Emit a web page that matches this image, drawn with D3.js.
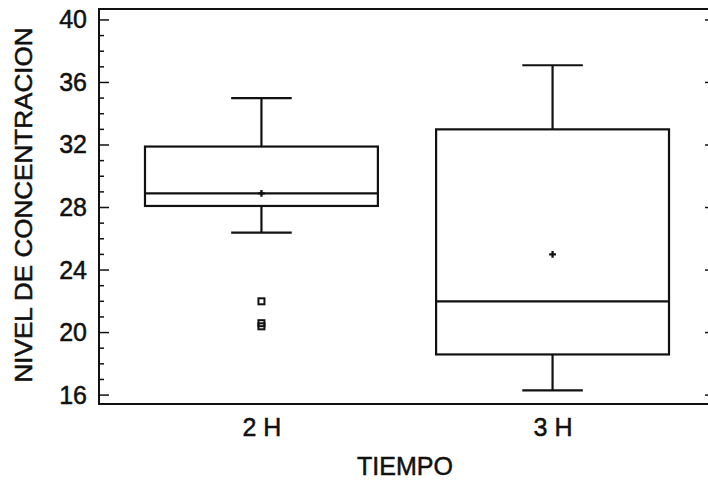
<!DOCTYPE html>
<html>
<head>
<meta charset="utf-8">
<script src="https://cdn.jsdelivr.net/npm/d3@7"></script>
<style>
  body { margin: 0; background: #fff; }
  svg text { font-family: "Liberation Sans", Arial, sans-serif; fill: #111; stroke: #111; stroke-width: 0.5px; }
</style>
</head>
<body>
<div id="chart-area"></div>
<script>
// box plot summaries
const groups = ["2 H", "3 H"];
const q1 = [28.1, 18.6];
const medians = [28.9, 22.0];
const q3 = [31.9, 33.0];
const whiskerLow = [26.4, 16.3];
const whiskerHigh = [35.0, 37.1];
const means = [28.9, 25.0];
const outliers = [[22.0, 20.6, 20.4], []];
const yTicks = [16, 20, 24, 28, 32, 36, 40];

const chartSize = { width: 708, height: 481 };
const margin = { left: 99, right: -7, top: 9, bottom: 77 };
const width = chartSize.width - margin.left - margin.right;
const height = chartSize.height - margin.top - margin.bottom;

const y = d3.scaleLinear().domain([15.43, 40.7]).range([height, 0]);
const x = d3.scalePoint().domain(groups).range([0, width]).padding(0.558);
const boxWidth = x.step() * 0.8;
const capWidth = boxWidth * 0.26;

const svg = d3
  .select("#chart-area")
  .append("svg")
  .attr("width", chartSize.width)
  .attr("height", chartSize.height);

const g = svg
  .append("g")
  .attr("transform", `translate(${margin.left},${margin.top})`);

// frame
g.append("rect")
  .attr("width", width)
  .attr("height", height)
  .attr("fill", "none")
  .attr("stroke", "#111")
  .attr("stroke-width", 2);

const minor = d3.range(16, 41);

// left axis: labels, then major + minor ticks
const yAxis = d3.axisLeft(y).tickValues(yTicks).tickSize(0).tickPadding(12);
g.append("g")
  .attr("class", "y-axis")
  .call(yAxis)
  .call(a => a.select(".domain").remove())
  .call(a => a.selectAll("text").style("font-size", "25px"));

g.append("g")
  .selectAll("line")
  .data(minor)
  .enter()
  .append("line")
  .attr("x1", 0)
  .attr("x2", d => (d % 4 === 0 ? 10 : 5))
  .attr("y1", d => y(d))
  .attr("y2", d => y(d))
  .attr("stroke", "#111")
  .attr("stroke-width", 1.5);

// right side ticks
g.append("g")
  .selectAll("line")
  .data(minor)
  .enter()
  .append("line")
  .attr("x1", width)
  .attr("x2", d => width - (d % 4 === 0 ? 10 : 5))
  .attr("y1", d => y(d))
  .attr("y2", d => y(d))
  .attr("stroke", "#111")
  .attr("stroke-width", 1.5);

// x labels
const xAxis = d3.axisBottom(x).tickSize(0).tickPadding(14);
g.append("g")
  .attr("transform", `translate(0,${height})`)
  .call(xAxis)
  .call(a => a.select(".domain").remove())
  .call(a => a.selectAll("text").style("font-size", "25px"));

g.append("text")
  .attr("x", 306)
  .attr("y", height + 71)
  .attr("text-anchor", "middle")
  .style("font-size", "25px")
  .text("TIEMPO");

g.append("text")
  .attr("transform", "rotate(-90)")
  .attr("x", -196)
  .attr("y", -67)
  .attr("text-anchor", "middle")
  .style("font-size", "23px")
  .attr("textLength", 355)
  .attr("lengthAdjust", "spacingAndGlyphs")
  .text("NIVEL DE CONCENTRACION");

// boxes
const boxes = g
  .selectAll(".box")
  .data(groups)
  .enter()
  .append("g")
  .attr("class", "box")
  .attr("stroke", "#111")
  .attr("stroke-width", 2.2)
  .attr("fill", "none");

boxes
  .append("line")
  .attr("x1", d => x(d))
  .attr("x2", d => x(d))
  .attr("y1", (d, i) => y(whiskerHigh[i]))
  .attr("y2", (d, i) => y(q3[i]));

boxes
  .append("line")
  .attr("x1", d => x(d))
  .attr("x2", d => x(d))
  .attr("y1", (d, i) => y(q1[i]))
  .attr("y2", (d, i) => y(whiskerLow[i]));

boxes
  .append("line")
  .attr("x1", d => x(d) - capWidth / 2)
  .attr("x2", d => x(d) + capWidth / 2)
  .attr("y1", (d, i) => y(whiskerHigh[i]))
  .attr("y2", (d, i) => y(whiskerHigh[i]));

boxes
  .append("line")
  .attr("x1", d => x(d) - capWidth / 2)
  .attr("x2", d => x(d) + capWidth / 2)
  .attr("y1", (d, i) => y(whiskerLow[i]))
  .attr("y2", (d, i) => y(whiskerLow[i]));

boxes
  .append("rect")
  .attr("x", d => x(d) - boxWidth / 2)
  .attr("width", boxWidth)
  .attr("y", (d, i) => y(q3[i]))
  .attr("height", (d, i) => y(q1[i]) - y(q3[i]));

boxes
  .append("line")
  .attr("x1", d => x(d) - boxWidth / 2)
  .attr("x2", d => x(d) + boxWidth / 2)
  .attr("y1", (d, i) => y(medians[i]))
  .attr("y2", (d, i) => y(medians[i]));

// mean markers
boxes
  .append("path")
  .attr("d", d3.symbol(d3.symbolCross, 26))
  .attr("transform", (d, i) => `translate(${x(d)},${y(means[i])})`)
  .attr("fill", "#111")
  .attr("stroke", "none");

// outliers
boxes.each(function(d, i) {
  d3.select(this)
    .selectAll(".out")
    .data(outliers[i])
    .enter()
    .append("rect")
    .attr("class", "out")
    .attr("x", x(d) - 3)
    .attr("y", v => y(v) - 3)
    .attr("width", 6)
    .attr("height", 6)
    .attr("stroke-width", 2);
});
</script>
</body>
</html>
